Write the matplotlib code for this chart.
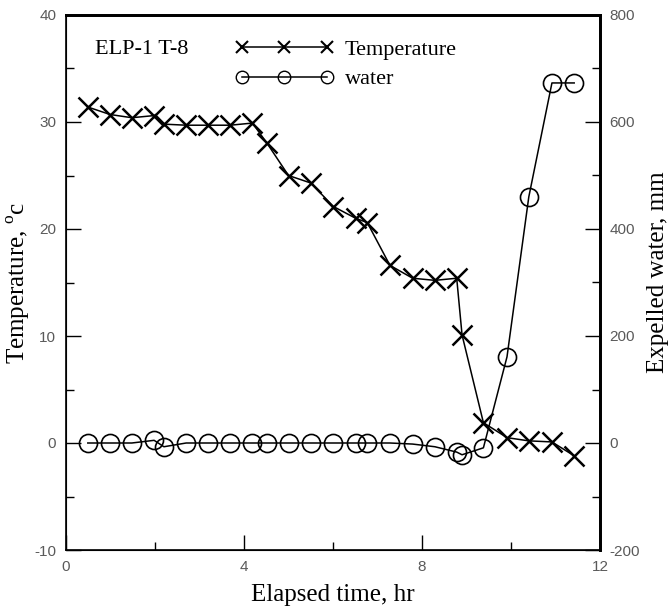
import matplotlib
matplotlib.use("Agg")
import matplotlib.pyplot as plt
from matplotlib.lines import Line2D
from matplotlib.ticker import MultipleLocator

# ---- data ----
time_hr = [0.49, 0.99, 1.48, 1.98, 2.20, 2.70, 3.18, 3.69, 4.19, 4.52, 5.00, 5.50,
           6.01, 6.51, 6.77, 7.28, 7.79, 8.29, 8.78, 8.90, 9.38, 9.91, 10.40, 10.92, 11.42]
temperature = [31.4, 30.7, 30.4, 30.6, 29.8, 29.7, 29.7, 29.7, 29.9, 28.0, 25.0, 24.3,
               22.1, 21.0, 20.6, 16.6, 15.4, 15.2, 15.4, 10.1, 1.9, 0.5, 0.2, 0.1, -1.2]
water = [0, 0, 0, 5, -7, 0, 0, 0, 0, 0, 0, 0,
         0, 0, 0, 0, -2, -7, -17, -22, -9, 161, 460, 673, 673]

x_ticks = [0, 4, 8, 12]
left_ticks = [-10, 0, 10, 20, 30, 40]
right_ticks = [-200, 0, 200, 400, 600, 800]

serif = "Liberation Serif"
sans = "Liberation Sans"
plt.rcParams["mathtext.fontset"] = "custom"
plt.rcParams["mathtext.rm"] = serif
plt.rcParams["axes.unicode_minus"] = False

fig = plt.figure(figsize=(6.69, 6.11), dpi=100)
ax = fig.add_axes([66 / 669, 61 / 611, 534 / 669, 535 / 611])
ax2 = ax.twinx()

ax.plot(time_hr, temperature, color="black", lw=1.1, marker="x", ms=14,
        mew=1.8, clip_on=False, zorder=3)
ax2.plot(time_hr, water, color="black", lw=1.1, marker="o", ms=13,
         mfc="none", mew=1.2, clip_on=False, zorder=3)

ax.set_xlim(0, 12)
ax.set_ylim(-10, 40)
ax2.set_ylim(-200, 800)
ax.set_xticks(x_ticks)
ax.set_yticks(left_ticks)
ax2.set_yticks(right_ticks)
ax.xaxis.set_minor_locator(MultipleLocator(2))
ax.yaxis.set_minor_locator(MultipleLocator(5))
ax2.yaxis.set_minor_locator(MultipleLocator(100))

tick_col = "#5a5a5a"
for a in (ax, ax2):
    a.tick_params(which="major", direction="in", length=11, width=1.0,
                  labelsize=11, labelcolor=tick_col, pad=7)
    a.tick_params(which="minor", direction="in", length=6, width=1.0)
    for lab in a.get_xticklabels() + a.get_yticklabels():
        lab.set_fontfamily(sans)
ax.tick_params(top=False, right=False, which="both")
ax2.tick_params(axis="y", which="both", left=False, right=True)

for s in ("left", "bottom"):
    ax.spines[s].set_linewidth(1.2)
for s in ("top", "right"):
    ax.spines[s].set_linewidth(2.0)
    ax2.spines[s].set_linewidth(2.0)

ax.set_xlabel("Elapsed time, hr", fontfamily=serif, fontsize=18)
ax.xaxis.set_label_coords(0.5, -0.085)
ax.xaxis.label.set_verticalalignment("center")
ax.set_ylabel("Temperature, $^{\\rm o}$c", fontfamily=serif, fontsize=18)
ax.yaxis.set_label_coords(-0.09, 0.5)
ax.yaxis.label.set_verticalalignment("center")
ax2.set_ylabel("Expelled water, mm", fontfamily=serif, fontsize=18)
ax2.yaxis.set_label_coords(1.109, 0.52)
ax2.yaxis.label.set_verticalalignment("center")

ax.text(0.054, 0.935, "ELP-1 T-8", transform=ax.transAxes, fontfamily=serif,
        fontsize=16, va="center", ha="left")

handles = [
    Line2D([], [], color="black", lw=1.1, marker="x", ms=9, mew=1.5),
    Line2D([], [], color="black", lw=1.1, marker="o", ms=9, mfc="none", mew=1.0),
]
leg = ax.legend(handles, ["Temperature", "water"], loc="upper left",
                bbox_to_anchor=((235 - 66) / 534, 1 - (39 - 15) / 535),
                frameon=False, numpoints=3, handlelength=4.45,
                handletextpad=0.5, labelspacing=0.42, borderpad=0, borderaxespad=0,
                prop={"family": serif, "size": 16})

fig.savefig("out.png", dpi=100)
